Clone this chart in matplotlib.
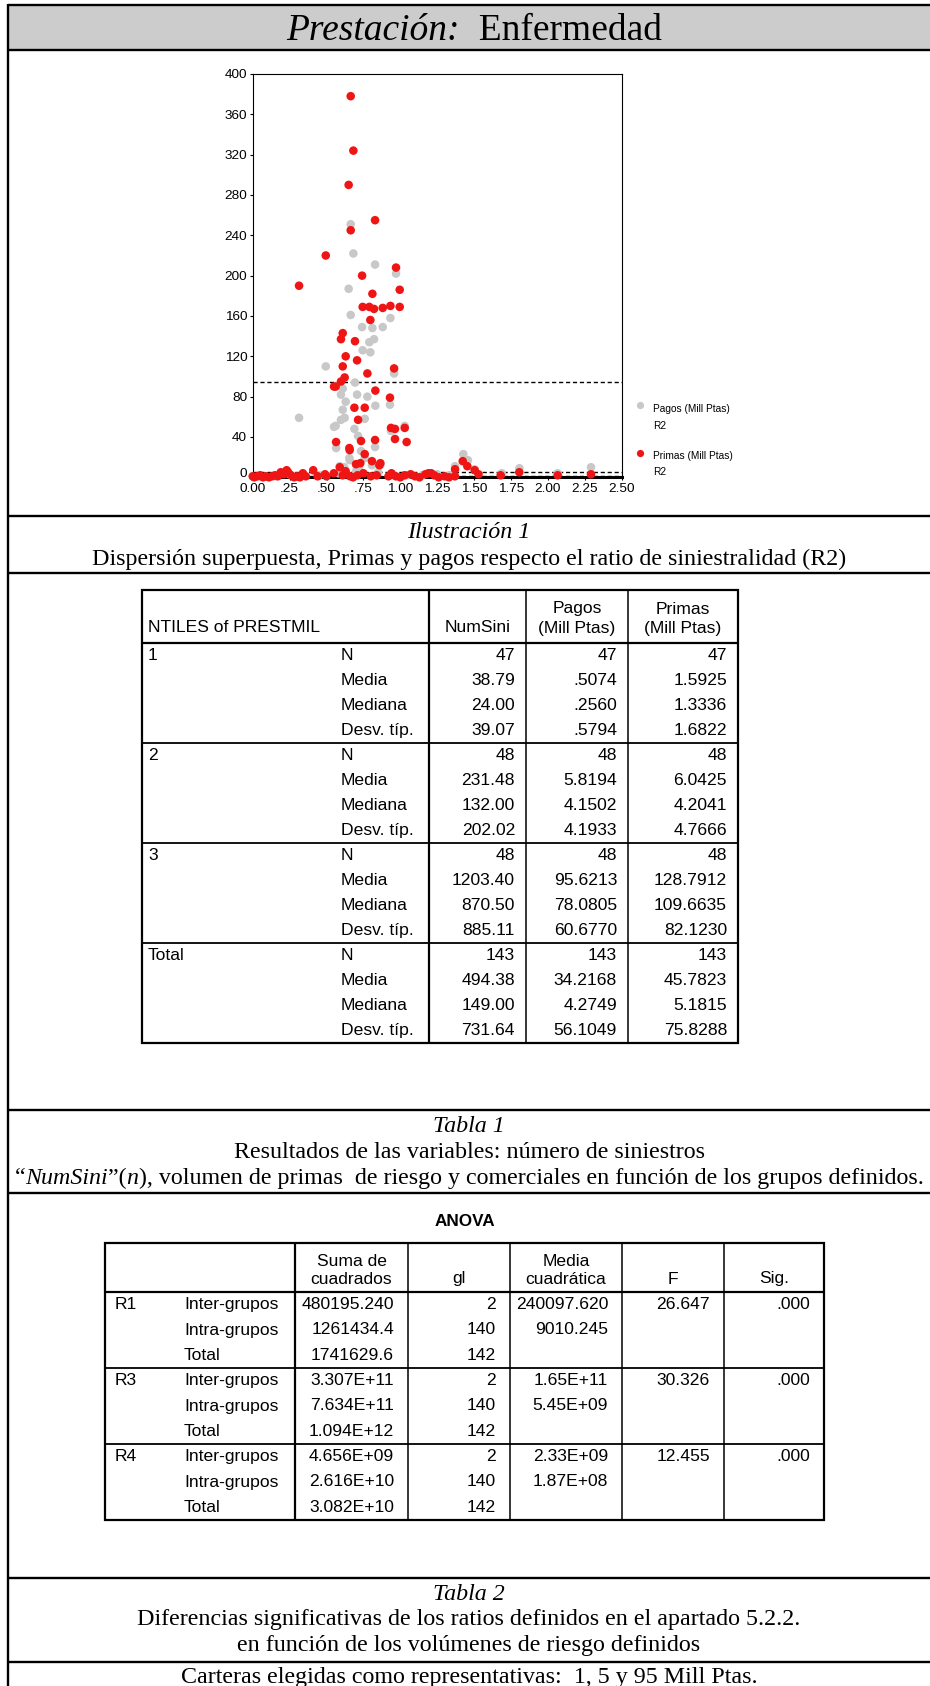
import matplotlib
matplotlib.use("Agg")
from matplotlib import pyplot as plt
from matplotlib.patches import Rectangle
from matplotlib.transforms import ScaledTranslation

# ratio R2 against payments (Pagos) and premiums (Primas), Mill Ptas
pagos_x = [0.664, 0.682, 0.829, 0.650, 0.971, 0.664, 0.933, 0.741, 0.811, 0.881,
           0.822, 0.790, 0.745, 0.797, 0.495, 0.958, 0.693, 0.610, 0.598, 0.707,
           0.777, 0.630, 0.930, 0.831, 0.610, 0.314, 0.623, 0.598, 0.759, 0.562,
           0.551, 0.689, 0.714, 0.937, 1.030, 0.565, 0.829, 0.734, 0.655, 0.657,
           0.759, 0.590, 0.865, 0.808, 1.427, 1.458, 1.371, 1.504, 1.807, 2.292,
           1.687, 2.066, 0.05, 0.15, 0.25, 0.34, 0.45, 0.58, 0.70, 0.85,
           0.95, 1.05, 1.15, 1.25, 1.33, 0.72, 0.62]
pagos_y = [251, 222, 211, 187, 202, 161, 158, 149, 148, 149,
           137, 134, 126, 124, 110, 103, 94, 88, 82, 82,
           80, 75, 72, 71, 67, 59, 59, 57, 58, 51,
           50, 48, 41, 46, 51, 29, 30, 26, 19, 17,
           19, 11, 12, 12, 23, 17, 11, 8, 9, 10,
           4, 4, 1, 1, 3, 2, 2, 4, 6, 5,
           3, 2, 2, 3, 2, 9, 10]

primas_x = [0.664, 0.682, 0.650, 0.829, 0.664, 0.495, 0.314, 0.971, 0.741, 0.996,
            0.811, 0.745, 0.790, 0.822, 0.881, 0.933, 0.996, 0.797, 0.610, 0.598,
            0.693, 0.630, 0.707, 0.610, 0.958, 0.777, 0.623, 0.598, 0.562, 0.551,
            0.831, 0.930, 0.689, 0.759, 0.714, 0.937, 0.964, 1.030, 0.565, 0.734,
            0.829, 0.964, 1.043, 0.655, 0.657, 0.759, 0.700, 0.729, 0.808, 0.865,
            0.858, 1.423, 1.454, 1.371, 1.504, 1.53, 1.68, 1.806, 2.066, 2.292,
            0.00, 0.01, 0.03, 0.05, 0.07, 0.09, 0.11, 0.13, 0.15, 0.17,
            0.19, 0.21, 0.23, 0.24, 0.26, 0.28, 0.30, 0.32, 0.34, 0.36,
            0.41, 0.44, 0.49, 0.50, 0.55, 0.59, 0.61, 0.63, 0.66, 0.68,
            0.71, 0.75, 0.80, 0.84, 0.92, 0.94, 0.97, 1.00, 1.03, 1.07,
            1.10, 1.13, 1.17, 1.19, 1.21, 1.23, 1.26, 1.30, 1.33, 1.37]
primas_y = [378, 324, 290, 255, 245, 220, 190, 208, 200, 186,
            182, 169, 169, 167, 168, 170, 169, 156, 143, 137,
            135, 120, 116, 110, 108, 103, 99, 95, 90, 90,
            86, 79, 69, 69, 57, 49, 48, 49, 35, 36,
            37, 38, 35, 29, 27, 23, 13, 14, 16, 14,
            12, 16, 11, 8, 7, 3, 2, 5, 2, 3,
            1, 0, 1, 2, 0, 1, 0, 1, 2, 1,
            5, 3, 7, 5, 2, 0, 1, 0, 4, 1,
            7, 1, 3, 1, 4, 10, 2, 6, 1, 0,
            2, 4, 1, 2, 1, 4, 1, 0, 2, 3,
            1, 0, 3, 4, 4, 2, 0, 1, 0, 1]

ref_levels = [1, 5, 95]
x_ticks = [0, 0.25, 0.5, 0.75, 1.0, 1.25, 1.5, 1.75, 2.0, 2.25, 2.5]
x_ticklabels = ["0.00", ".25", ".50", ".75", "1.00", "1.25", "1.50", "1.75",
                "2.00", "2.25", "2.50"]
y_ticks = list(range(0, 401, 40))

# Tabla 1
t1_groups = ["1", "2", "3", "Total"]
t1_stats = ["N", "Media", "Mediana", "Desv. típ."]
t1_numsini = [["47", "38.79", "24.00", "39.07"],
              ["48", "231.48", "132.00", "202.02"],
              ["48", "1203.40", "870.50", "885.11"],
              ["143", "494.38", "149.00", "731.64"]]
t1_pagos = [["47", ".5074", ".2560", ".5794"],
            ["48", "5.8194", "4.1502", "4.1933"],
            ["48", "95.6213", "78.0805", "60.6770"],
            ["143", "34.2168", "4.2749", "56.1049"]]
t1_primas = [["47", "1.5925", "1.3336", "1.6822"],
             ["48", "6.0425", "4.2041", "4.7666"],
             ["48", "128.7912", "109.6635", "82.1230"],
             ["143", "45.7823", "5.1815", "75.8288"]]

# Tabla 2 (ANOVA)
an_vars = ["R1", "R3", "R4"]
an_src = ["Inter-grupos", "Intra-grupos", "Total"]
an_ss = [["480195.240", "1261434.4", "1741629.6"],
         ["3.307E+11", "7.634E+11", "1.094E+12"],
         ["4.656E+09", "2.616E+10", "3.082E+10"]]
an_gl = ["2", "140", "142"]
an_ms = [["240097.620", "9010.245", ""],
         ["1.65E+11", "5.45E+09", ""],
         ["2.33E+09", "1.87E+08", ""]]
an_f = ["26.647", "30.326", "12.455"]
an_sig = [".000", ".000", ".000"]

SERIF = "Liberation Serif"
SANS = "Liberation Sans"
CAP = 17.3  # caption size

W, H = 930, 1686
fig = plt.figure(figsize=(W / 100, H / 100), dpi=100)
renderer = fig.canvas.get_renderer()

# page canvas in pixel units, y downwards
page = fig.add_axes([0, 0, 1, 1])
page.set_xlim(0, W)
page.set_ylim(H, 0)
page.axis("off")

RULE = 1.7


def hline(y, x0=8, x1=W, lw=RULE):
    page.plot([x0, x1], [y, y], c="k", lw=lw, solid_capstyle="butt")


def vline(x, y0, y1, lw=RULE):
    page.plot([x, x], [y0, y1], c="k", lw=lw, solid_capstyle="butt")


def rich_line(x, y, parts, size, va="center"):
    arts = [page.text(0, y, s, family=SERIF, style=st, fontsize=size,
                      ha="left", va=va) for s, st in parts]
    widths = [a.get_window_extent(renderer).width for a in arts]
    x0 = x - sum(widths) / 2
    for a, w in zip(arts, widths):
        a.set_x(x0)
        x0 += w


def caption(y, s, style="normal", size=CAP):
    page.text(W / 2 + 4, y, s, family=SERIF, style=style, fontsize=size,
              ha="center", va="center")


# frame and title band
page.add_patch(Rectangle((8, 5), W - 8, 45, fc="#cccccc", ec="none"))
vline(8, 4, H)
for y in [5, 50, 516, 573, 1110, 1193, 1578, 1662]:
    hline(y)
rich_line(W / 2 + 9, 40, [("Prestación:", "italic"), ("  Enfermedad", "normal")],
          27, va="baseline")

# scatter
ax = fig.add_axes([252.7 / W, 1 - 477.3 / H, 369 / W, 403.3 / H])
ax.scatter(pagos_x, pagos_y, s=38, c="#c8c8c8", edgecolors="none",
           clip_on=False, zorder=3)
ax.scatter(primas_x, primas_y, s=38, c="#f01515", edgecolors="none",
           clip_on=False, zorder=4)
for lev in ref_levels:
    ax.axhline(lev, c="k", lw=1, ls=(0, (3, 2)), zorder=2)
ax.set_xlim(0, 2.5)
ax.set_ylim(0, 400)
ax.set_xticks(x_ticks, x_ticklabels)
ax.set_yticks(y_ticks)
ax.tick_params(labelsize=9.7, length=2.5, width=0.8, pad=1.5)
for lab in ax.get_xticklabels() + ax.get_yticklabels():
    lab.set_family(SANS)
# the zero label sits a little above the heavy baseline
lab0 = ax.get_yticklabels()[0]
lab0.set_transform(lab0.get_transform()
                   + ScaledTranslation(0, 3.5 / 72, fig.dpi_scale_trans))
for side in ["top", "right", "left"]:
    ax.spines[side].set_linewidth(0.8)
ax.spines["bottom"].set_linewidth(2.2)

# legend to the right of the plot
kw_leg = dict(transform=ax.transAxes, fontsize=7.3, family=SANS,
              va="center", ha="left")
ax.plot([1.049], [0.1793], "o", ms=5.2, c="#c8c8c8", mec="none",
        transform=ax.transAxes, clip_on=False)
ax.text(1.084, 0.170, "Pagos (Mill Ptas)", **kw_leg)
ax.text(1.084, 0.127, "R2", **kw_leg)
ax.plot([1.049], [0.061], "o", ms=5.2, c="#f01515", mec="none",
        transform=ax.transAxes, clip_on=False)
ax.text(1.084, 0.054, "Primas (Mill Ptas)", **kw_leg)
ax.text(1.084, 0.012, "R2", **kw_leg)

caption(532, "Ilustración 1", "italic")
caption(559, "Dispersión superpuesta, Primas y pagos respecto el ratio de "
             "siniestralidad (R2)")

# Tabla 1
kw_t = dict(family=SANS, fontsize=12.6, va="center")
L1, R1 = 142, 738
S1 = [429, 526, 628]
top1, head1, rh1 = 590, 643, 25
bot1 = head1 + 16 * rh1
page.add_patch(Rectangle((L1, top1), R1 - L1, bot1 - top1, fc="none",
                         ec="k", lw=1.6))
hline(head1, L1, R1, 1.6)
vline(S1[0], top1, bot1, 1.6)
for s in S1[1:]:
    vline(s, top1, bot1, 1.1)
for g in range(1, 4):
    hline(head1 + 4 * g * rh1, L1, R1, 1.3)

page.text(148, 628, "NTILES of PRESTMIL", **kw_t)
edges1 = S1 + [R1]
for i, (l1, l2) in enumerate([("", "NumSini"), ("Pagos", "(Mill Ptas)"),
                              ("Primas", "(Mill Ptas)")]):
    xc = (edges1[i] + edges1[i + 1]) / 2
    page.text(xc, 609, l1, ha="center", **kw_t)
    page.text(xc, 628, l2, ha="center", **kw_t)
for g, grp in enumerate(t1_groups):
    for k, st in enumerate(t1_stats):
        y = head1 + (4 * g + k + 0.5) * rh1
        if k == 0:
            page.text(148, y, grp, **kw_t)
        page.text(341, y, st, **kw_t)
        for col, vals in enumerate([t1_numsini, t1_pagos, t1_primas]):
            page.text(edges1[col + 1] - 11, y, vals[g][k], ha="right", **kw_t)

caption(1126, "Tabla 1", "italic")
caption(1152, "Resultados de las variables: número de siniestros")
rich_line(W / 2 + 4, 1178,
          [("“", "normal"), ("NumSini", "italic"), ("”(", "normal"),
           ("n", "italic"),
           ("), volumen de primas  de riesgo y comerciales en función de los "
            "grupos definidos.", "normal")], CAP)

# Tabla 2: ANOVA
page.text(W / 2, 1222, "ANOVA", family=SANS, weight="bold",
          fontsize=12.3, ha="center", va="center")
L2, R2 = 105, 824
S2 = [295, 408, 510, 622, 724]
top2, head2, rh2 = 1243, 1292, 76 / 3
bot2 = head2 + 9 * rh2
page.add_patch(Rectangle((L2, top2), R2 - L2, bot2 - top2, fc="none",
                         ec="k", lw=1.6))
hline(head2, L2, R2, 1.6)
vline(S2[0], top2, bot2, 1.6)
for s in S2[1:]:
    vline(s, top2, bot2, 1.1)
for g in range(1, 3):
    hline(head2 + 3 * g * rh2, L2, R2, 1.3)

edges2 = S2 + [R2]
heads2 = [("Suma de", "cuadrados"), ("", "gl"), ("Media", "cuadrática"),
          ("", "F"), ("", "Sig.")]
for i, (l1, l2) in enumerate(heads2):
    xc = (edges2[i] + edges2[i + 1]) / 2
    page.text(xc, 1261, l1, ha="center", **kw_t)
    page.text(xc, 1279, l2, ha="center", **kw_t)
for g, var in enumerate(an_vars):
    for k, src in enumerate(an_src):
        y = head2 + (3 * g + k + 0.5) * rh2
        if k == 0:
            page.text(115, y, var, **kw_t)
            page.text(edges2[4] - 14, y, an_f[g], ha="right", **kw_t)
            page.text(edges2[5] - 14, y, an_sig[g], ha="right", **kw_t)
        page.text(184, y, src, **kw_t)
        page.text(edges2[1] - 14, y, an_ss[g][k], ha="right", **kw_t)
        page.text(edges2[2] - 14, y, an_gl[k], ha="right", **kw_t)
        page.text(edges2[3] - 14, y, an_ms[g][k], ha="right", **kw_t)

caption(1594, "Tabla 2", "italic")
caption(1620, "Diferencias significativas de los ratios definidos en el "
              "apartado 5.2.2.")
caption(1646, "en función de los volúmenes de riesgo definidos")
caption(1677, "Carteras elegidas como representativas:  1, 5 y 95 Mill Ptas.")

fig.savefig("out.png", dpi=100)
